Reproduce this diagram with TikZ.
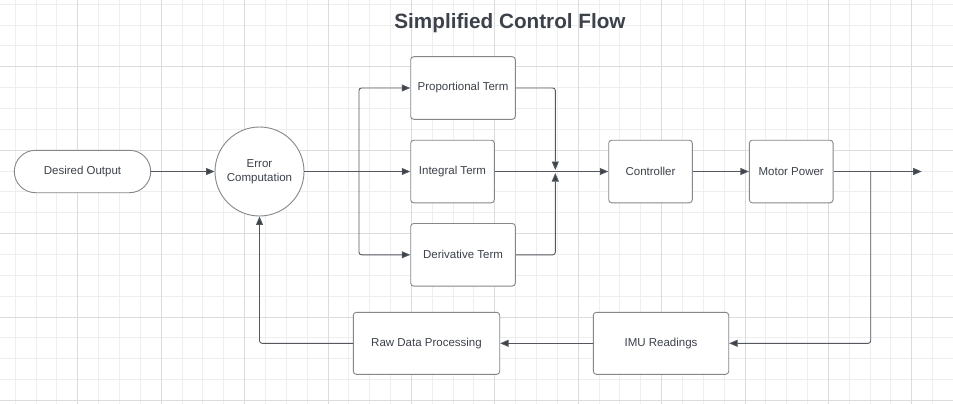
\documentclass[tikz,border=0pt]{standalone}
\usepackage{fontspec}
\setmainfont{Liberation Sans}
\usetikzlibrary{positioning,arrows.meta}

\definecolor{gridminor}{HTML}{EEEEEE}
\definecolor{gridmajor}{HTML}{DCDCDC}
\definecolor{boxline}{HTML}{85878C}
\definecolor{wire}{HTML}{54585E}
\definecolor{txt}{HTML}{3C414A}

\begin{document}
\begin{tikzpicture}[x=1pt,y=-1pt,
  block/.style={draw=boxline,line width=0.9pt,rounded corners=3pt,fill=white,
    minimum height=62.6pt,inner sep=2pt,text=txt,font=\fontsize{11.5}{13.5}\selectfont},
  flow/.style={draw=wire,line width=0.9pt,rounded corners=2.5pt,
    -{Triangle[length=8.5pt,width=7pt,fill=txt]}},
  wireline/.style={draw=wire,line width=0.9pt}]

  \useasboundingbox (0,0) rectangle (953,404);
  \fill[white] (0,0) rectangle (953,404);
  \foreach \k in {0,...,45} {
    \draw[gridminor,line width=0.8pt] (15.15+20.85*\k,0) -- (15.15+20.85*\k,404);
  }
  \foreach \k in {0,...,19} {
    \draw[gridminor,line width=0.8pt] (0,4.15+20.85*\k) -- (953,4.15+20.85*\k);
  }
  \foreach \k in {0,...,10} {
    \draw[gridmajor,line width=0.8pt] (77.7+83.4*\k,0) -- (77.7+83.4*\k,404);
  }
  \foreach \k in {0,...,4} {
    \draw[gridmajor,line width=0.8pt] (0,66.7+83.4*\k) -- (953,66.7+83.4*\k);
  }

  \node[text=txt,font=\fontsize{20.7}{24}\selectfont\bfseries] (title) at (510,23.5) {Simplified Control Flow};

\begin{scope}[every node/.style={block}]
  \node[minimum width=136.4pt,minimum height=42.4pt,rounded corners=21.2pt] (desired) at (82.5,171.5) {Desired Output};
  \node[circle,minimum size=89pt,rounded corners=0pt,align=center] (error) at (259.5,171.5) {Error\\Computation};
  \node[minimum width=104.6pt] (prop) at (463,88) {Proportional Term};
  \node[minimum width=83.6pt] (integ) at (452.5,171.5) {Integral Term};
  \node[minimum width=104.6pt] (deriv) at (463,254.8) {Derivative Term};
  \node[minimum width=83.6pt] (ctrl) at (650.5,171.5) {Controller};
  \node[minimum width=83.7pt] (motor) at (791.2,171.5) {Motor Power};
  \node[minimum width=146.4pt,minimum height=62pt] (raw) at (426.5,343.3) {Raw Data Processing};
  \node[minimum width=135.4pt,minimum height=62pt] (imu) at (661,343.3) {IMU Readings};
\end{scope}

  \coordinate (fork) at (359,171.5);
  \coordinate (join) at (555.3,171.5);
  \coordinate (tap) at (870.7,171.5);
  \coordinate (out) at (921.7,171.5);

  \draw[flow] (desired) -- (error);
  \draw[wireline] (error) -- (fork);
  \draw[flow] (fork) |- (prop);
  \draw[flow] (fork) -- (integ);
  \draw[flow] (fork) |- (deriv);
  \foreach \t in {prop,deriv} {
    \draw[flow,shorten >=1.5pt] (\t) -| (join);
  }
  \draw[flow] (integ) -- (ctrl);
  \draw[flow] (ctrl) -- (motor);
  \draw[flow] (motor) -- (out);
  \draw[flow] (tap) |- (imu);
  \draw[flow] (imu) -- (raw);
  \draw[flow] (raw) -| (error);

\end{tikzpicture}
\end{document}
